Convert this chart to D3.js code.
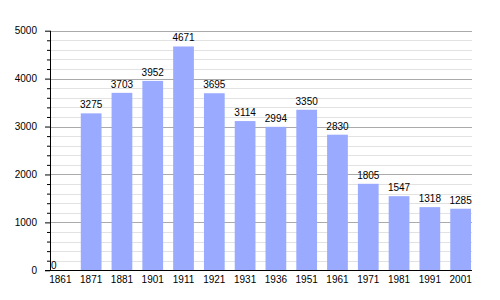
<!DOCTYPE html>
<html><head><meta charset="utf-8">
<script src="https://cdn.jsdelivr.net/npm/d3@7"></script>
<style>body{margin:0;background:#fff}svg{display:block}text{font-family:"Liberation Sans",Arial,sans-serif}</style>
</head><body>
<script>
const years = ["1861","1871","1881","1901","1911","1921","1931","1936","1951","1961","1971","1981","1991","2001"];
const population = [0,3275,3703,3952,4671,3695,3114,2994,3350,2830,1805,1547,1318,1285];
const majorTicks = [0,1000,2000,3000,4000,5000];
const minorStep = 200;

(function(){
const W=500,H=300;
const pLeft=50,pRight=471,pTop=30.7,pBottom=270.3;
const svg=d3.select("body").append("svg").attr("width",W).attr("height",H);
const x=d3.scaleBand().domain(years).range([pLeft,pRight]).paddingInner(0.327).paddingOuter(0);
const y=d3.scaleLinear().domain([0,5000]).range([pBottom,pTop]);
const minor=d3.range(0,5001,minorStep).filter(v=>!majorTicks.includes(v));

svg.append("g").selectAll("line").data(minor).join("line")
 .attr("x1",pLeft).attr("x2",pRight+1).attr("y1",d=>Math.round(y(d))+0.5).attr("y2",d=>Math.round(y(d))+0.5)
 .attr("stroke","#e2e2e2").attr("stroke-width",1);
svg.append("g").selectAll("line").data(majorTicks.filter(d=>d>0)).join("line")
 .attr("x1",pLeft).attr("x2",pRight+1).attr("y1",d=>Math.round(y(d))+0.5).attr("y2",d=>Math.round(y(d))+0.5)
 .attr("stroke","#aaaaaa").attr("stroke-width",1);

svg.append("g").selectAll("rect").data(population).join("rect")
 .attr("x",(d,i)=>x(years[i])).attr("width",x.bandwidth())
 .attr("y",d=>y(d)).attr("height",d=>pBottom-y(d))
 .attr("fill","#99aaff");

svg.append("g").selectAll("text").data(population).join("text")
 .attr("x",(d,i)=>d===0? x(years[i])+1 : x(years[i])+x.bandwidth()/2)
 .attr("y",d=>d===0? pBottom-1 : y(d)-5)
 .attr("text-anchor",d=>d===0?"start":"middle")
 .attr("font-size",10).attr("fill","#000").text(d=>d);

const yAxis=d3.axisLeft(y).tickValues(majorTicks).tickSize(5).tickPadding(8).tickFormat(d3.format("d"));
const gy=svg.append("g").attr("transform",`translate(${pLeft},0)`).call(yAxis);
gy.select(".domain").remove();
gy.selectAll(".tick line").attr("stroke","#000");
gy.selectAll(".tick text").attr("font-size",10).attr("font-family","Liberation Sans, Arial, sans-serif").attr("fill","#000");
const yMinorAxis=d3.axisLeft(y).tickValues(minor).tickSize(3).tickFormat("");
const gym=svg.append("g").attr("transform",`translate(${pLeft},0)`).call(yMinorAxis);
gym.select(".domain").remove();
gym.selectAll(".tick line").attr("stroke","#000");
svg.append("line").attr("x1",pLeft+0.5).attr("x2",pLeft+0.5).attr("y1",y(5000)).attr("y2",pBottom).attr("stroke","#000");

const xAxis=d3.axisBottom(x).tickSize(0).tickPadding(6);
const gx=svg.append("g").attr("transform",`translate(0,${pBottom})`).call(xAxis);
gx.select(".domain").remove();
gx.selectAll(".tick text").attr("font-size",10).attr("font-family","Liberation Sans, Arial, sans-serif").attr("fill","#000");
svg.append("line").attr("x1",pLeft-5).attr("x2",pRight+1).attr("y1",Math.round(pBottom)+0.5).attr("y2",Math.round(pBottom)+0.5).attr("stroke","#000").attr("stroke-width",1.2);
})();
</script>
</body></html>
